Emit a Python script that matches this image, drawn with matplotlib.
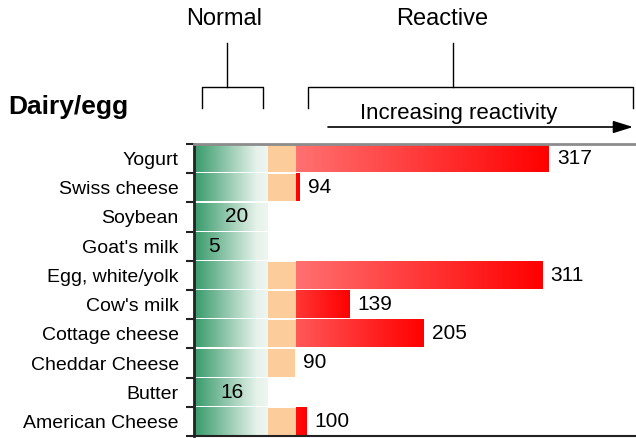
import numpy as np
import matplotlib.pyplot as plt
from matplotlib.colors import LinearSegmentedColormap, to_rgb

plt.rcParams['font.family'] = ['Liberation Sans', 'DejaVu Sans']

foods = ["Yogurt", "Swiss cheese", "Soybean", "Goat's milk", "Egg, white/yolk",
         "Cow's milk", "Cottage cheese", "Cheddar Cheese", "Butter", "American Cheese"]
scores = [317, 94, 20, 5, 311, 139, 205, 90, 16, 100]

normal_max = 66       # end of the green "normal" band
borderline_max = 91   # end of the peach band, reactive (red) beyond
x_max = 395

fig = plt.figure(figsize=(6.36, 4.38), dpi=100)
ax = fig.add_axes([194 / 636, 2 / 438, 1 - 194 / 636, 292 / 438])

h = 0.93
green = LinearSegmentedColormap.from_list(
    "green", [(0, "#369a6a"), (0.85, "#e6f2ea"), (1, "#eef6f1")])
red0 = np.array(to_rgb("#ff9e9e"))
red1 = np.array(to_rgb("#ff0000"))
grad = np.linspace(0, 1, 256).reshape(1, -1)

for i, v in enumerate(scores):
    # normal band on every row
    ax.imshow(grad, cmap=green, aspect="auto", interpolation="nearest",
              extent=(0, normal_max, i + h / 2, i - h / 2), zorder=1)
    if v > normal_max:
        ax.barh(i, min(v, borderline_max) - normal_max, left=normal_max,
                height=h, color="#fdcc9b", zorder=1)
    if v > borderline_max:
        t = np.linspace(borderline_max / v, 1, 256)[:, None]
        rgb = red0 * (1 - t) + red1 * t
        ax.imshow(rgb[None, :, :], aspect="auto", interpolation="nearest",
                  extent=(borderline_max, v, i + h / 2, i - h / 2), zorder=1)
    ax.annotate(str(v), (v, i), xytext=(6, 0), textcoords="offset points",
                ha="left", va="center", fontsize=15)

ax.set_xlim(0, x_max)
ax.set_ylim(len(foods) - 0.5, -0.5)
ax.set_xticks([])
ax.set_yticks(range(len(foods)))
ax.set_yticklabels(foods, fontsize=14)
ax.set_yticks(np.arange(-0.5, len(foods), 1), minor=True)
ax.tick_params(axis="y", which="major", length=0, pad=11)
ax.tick_params(axis="y", which="minor", length=6, width=1.5, color="#222222")

ax.spines["right"].set_visible(False)
ax.spines["left"].set_color("#222222")
ax.spines["left"].set_linewidth(2)
ax.spines["top"].set_color("#8c8c8c")
ax.spines["top"].set_linewidth(2)
ax.spines["bottom"].set_color("#222222")
ax.spines["bottom"].set_linewidth(1.5)

# annotations in pixel coordinates
ov = fig.add_axes([0, 0, 1, 1])
ov.set_xlim(0, 636)
ov.set_ylim(438, 0)
ov.axis("off")
ov.patch.set_alpha(0)

ov.text(8, 114, "Dairy/egg", fontsize=19, fontweight="bold", va="baseline")
ov.text(224, 25, "Normal", fontsize=17, ha="center", va="baseline")
ov.text(442, 25, "Reactive", fontsize=17, ha="center", va="baseline")

ov.plot([227, 227], [43, 87], color="k", lw=1)
ov.plot([202, 202, 263, 263], [108, 87, 87, 108], color="k", lw=1)
ov.plot([453, 453], [43, 87], color="k", lw=1)
ov.plot([308, 308, 633, 633], [108, 87, 87, 108], color="k", lw=1)

ov.text(459, 119, "Increasing reactivity", fontsize=16, ha="center", va="baseline")
ov.annotate("", xy=(633, 127), xytext=(328, 127),
            arrowprops=dict(arrowstyle="-|>,head_length=0.8,head_width=0.25",
                            color="k", lw=1.2, mutation_scale=15,
                            shrinkA=0, shrinkB=0))

fig.savefig("out.png", dpi=100)
